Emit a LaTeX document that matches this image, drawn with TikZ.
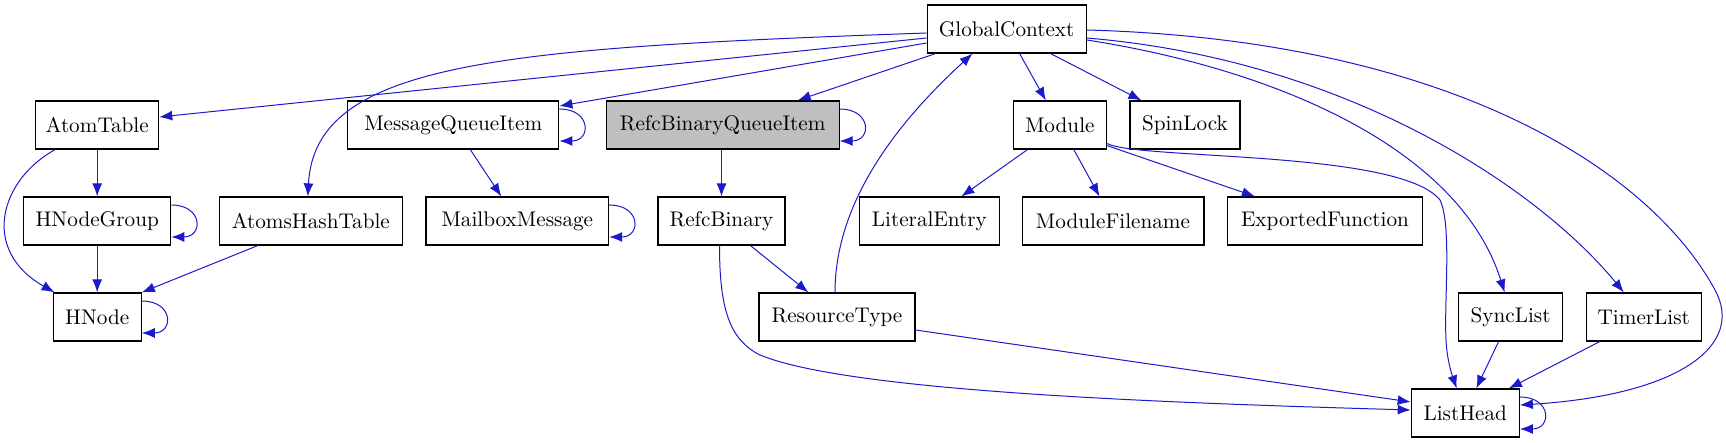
\documentclass[tikz,border=0pt]{standalone}
\usepackage{tikz}
\usetikzlibrary{calc}
\usetikzlibrary{arrows.meta}
\definecolor{edgeblue}{RGB}{26,26,204}
\tikzset{cls/.style={rectangle,draw=black,line width=0.6pt,fill=white,minimum height=24pt,inner sep=0pt,font=\fontsize{10.6}{12}\selectfont}}
\tikzset{cur/.style={cls,fill=black!25}}
\tikzset{link/.style={draw=edgeblue,line width=0.5pt,-{Latex[length=6.5pt,width=5pt]}}}

\begin{document}
\begin{tikzpicture}[x=0.5pt,y=-0.5pt]
\useasboundingbox (0,0) rectangle (1726,443);
\node[cls,minimum width=79.5pt] (gc) at (1006.6,29) {GlobalContext};
\node[cls,minimum width=61.5pt] (atom) at (97.2,125) {AtomTable};
\node[cls,minimum width=105.5pt] (mqi) at (453.3,125) {MessageQueueItem};
\node[cur,minimum width=116.4pt] (rbqi) at (722.7,125) {RefcBinaryQueueItem};
\node[cls,minimum width=46.7pt] (mod) at (1059.8,125) {Module};
\node[cls,minimum width=55pt] (spin) at (1185,125) {SpinLock};
\node[cls,minimum width=73.5pt] (hng) at (97.2,221) {HNodeGroup};
\node[cls,minimum width=91.5pt] (aht) at (310.8,221) {AtomsHashTable};
\node[cls,minimum width=91.3pt] (mbox) at (517.3,221) {MailboxMessage};
\node[cls,minimum width=63.5pt] (rb) at (721.5,221) {RefcBinary};
\node[cls,minimum width=69.7pt] (lit) at (929.4,221) {LiteralEntry};
\node[cls,minimum width=90.9pt] (mfn) at (1113,221) {ModuleFilename};
\node[cls,minimum width=97.5pt] (ef) at (1325,221) {ExportedFunction};
\node[cls,minimum width=44pt] (hnode) at (97.2,317) {HNode};
\node[cls,minimum width=78pt] (rt) at (837,317) {ResourceType};
\node[cls,minimum width=52pt] (sync) at (1510.6,317) {SyncList};
\node[cls,minimum width=57.5pt] (timer) at (1643.8,317) {TimerList};
\node[cls,minimum width=54pt] (lh) at (1465.3,413) {ListHead};

% out of GlobalContext
\draw[link] ($(gc.west)+(0,9)$) -- ($(atom.east)+(0,-8)$);
\draw[link] ($(gc.west)+(0,14)$) -- ($(mqi.east)+(0,-19)$);
\draw[link] ($(gc.south west)+(9,0)$) -- ($(rbqi.north east)+(-42,0)$);
\draw[link] ($(gc.south)+(13,0)$) -- ($(mod.north)+(-14,0)$);
\draw[link] ($(gc.south)+(44,0)$) -- ($(spin.north west)+(12,0)$);
\draw[link] ($(gc.west)+(0,4)$) .. controls (500,48) and (315,62) .. ($(aht.north)+(-3,0)$);
\draw[link] ($(gc.east)+(0,11)$) .. controls (1280,70) and (1460,150) .. ($(sync.north)+(-6,0)$);
\draw[link] ($(gc.east)+(0,9)$) .. controls (1350,60) and (1540,190) .. ($(timer.north)+(-20,0)$);
\draw[link] ($(gc.east)+(0,1)$) .. controls (1450,40) and (1650,170) .. (1715,290) .. controls (1745,345) and (1680,395) .. ($(lh.east)+(0,-8)$);

\draw[link] (atom) -- (hng);
\draw[link] ($(atom.south west)+(20,0)$) .. controls (0,180) and (-20,250) .. ($(hnode.north west)+(2,0)$);
\draw[link] (hng) -- (hnode);
\draw[link] ($(aht.south west)+(39,0)$) -- (hnode.north east);
\draw[link] ($(mqi.south)+(17,0)$) -- ($(mbox.north)+(-16,0)$);
\draw[link] (rb.north |- rbqi.south) -- (rb.north);
\draw[link] ($(rb.south)+(29,0)$) -- ($(rt.north west)+(50,0)$);
\draw[link] ($(rb.south)+(-2,0)$) .. controls (719.5,310) and (730,340) .. (760,355) .. controls (850,392) and (1170,403) .. ($(lh.west)+(0,-3)$);
\draw[link] ($(rt.north)+(-2,0)$) .. controls (835,200) and (900,120) .. ($(gc.south west)+(46,0)$);
\draw[link] ($(rt.east)+(0,13)$) -- ($(lh.west)+(0,-11)$);
\draw[link] ($(mod.south west)+(15,0)$) -- ($(lit.north)+(32,0)$);
\draw[link] ($(mod.south)+(14,0)$) -- ($(mfn.north west)+(78,0)$);
\draw[link] ($(mod.south east)+(0,-4)$) -- ($(ef.north west)+(28,0)$);
\draw[link] ($(mod.south east)+(0,-6)$) .. controls (1140,160) and (1400,150) .. (1440,200) .. controls (1452,225) and (1444,300) .. (1446,340) .. controls (1447,360) and (1452,375) .. ($(lh.north west)+(46,0)$);
\draw[link] ($(sync.south)+(-12,0)$) -- ($(lh.north)+(11,0)$);
\draw[link] ($(timer.south west)+(14,0)$) -- ($(lh.north east)+(-11,0)$);

% self references
\foreach \n in {hng,hnode,mqi,mbox,rbqi,lh} {
	\draw[link] ($(\n.east)+(0,-16)$) .. controls +(32,0) and +(32,0) .. ($(\n.east)+(0,16)$);
}
\end{tikzpicture}
\end{document}
